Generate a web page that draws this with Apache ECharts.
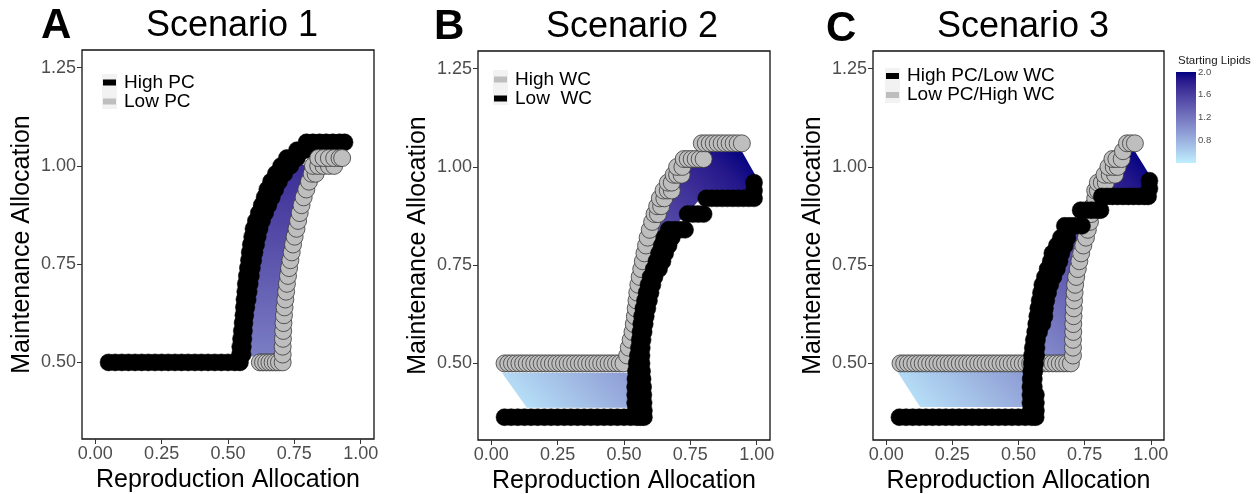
<!DOCTYPE html>
<html><head><meta charset="utf-8">
<script src="https://cdn.jsdelivr.net/npm/echarts@6/dist/echarts.min.js"></script>
<style>html,body{margin:0;padding:0;background:#fff}#c{width:1259px;height:494px}</style>
</head><body><div id="c"></div>
<script>
// ---------- data ----------
const X_TICKS = [0, 0.25, 0.5, 0.75, 1.0];
const Y_TICKS = [0.5, 0.75, 1.0, 1.25];
const CB_TICKS = [0.8, 1.2, 1.6, 2.0];
const CB_MIN = 0.4, CB_MAX = 2.0;
const LOW_COLOR = '#BFEFFF', HIGH_COLOR = '#000080';

const TITLES = ['Scenario 1', 'Scenario 2', 'Scenario 3'];
const LETTERS = ['A', 'B', 'C'];

// rows: [maintenance, [reproduction values...]]
const A_HIGH_ROWS = [
 [0.50,[0.05,0.075,0.10,0.125,0.15,0.175,0.20,0.225,0.25,0.275,0.30,0.325,0.35,0.375,0.40,0.425,0.45,0.475,0.50,0.525,0.545]],
 [0.52,[0.545,0.555]],[0.54,[0.546,0.556]],[0.56,[0.549,0.558]],[0.58,[0.552,0.56]],[0.60,[0.555,0.562]],
 [0.62,[0.558,0.565]],[0.64,[0.56,0.569]],[0.66,[0.562,0.574]],[0.68,[0.565,0.578]],[0.70,[0.567,0.582]],
 [0.72,[0.571,0.586]],[0.74,[0.575,0.59]],[0.76,[0.579,0.595]],[0.78,[0.582,0.60]],[0.80,[0.586,0.606]],
 [0.82,[0.591,0.612]],[0.84,[0.596,0.619]],[0.86,[0.605,0.628]],[0.88,[0.616,0.64]],[0.90,[0.627,0.652]],
 [0.92,[0.638,0.665]],[0.94,[0.648,0.678]],[0.96,[0.662,0.692]],[0.98,[0.68,0.712]],[1.00,[0.70,0.735]],
 [1.02,[0.722,0.76]],[1.04,[0.76,0.79]],[1.06,[0.796,0.82,0.845,0.87,0.895,0.92,0.939]]
];
const A_LOW_ROWS = [
 [0.50,[0.62,0.632,0.644,0.656,0.668,0.68,0.692,0.706]],
 [0.52,[0.706]],[0.54,[0.706]],[0.56,[0.707]],[0.58,[0.708]],[0.60,[0.709]],[0.62,[0.711]],[0.64,[0.713]],
 [0.66,[0.716]],[0.68,[0.719]],[0.70,[0.722]],[0.72,[0.726]],[0.74,[0.73]],[0.76,[0.735]],[0.78,[0.74]],
 [0.80,[0.745]],[0.82,[0.751]],[0.84,[0.758]],[0.86,[0.764]],[0.88,[0.77]],[0.90,[0.777]],[0.92,[0.785]],
 [0.94,[0.795]],[0.96,[0.805]],[0.98,[0.815,0.83]],[1.00,[0.82,0.84,0.86,0.88,0.90]],
 [1.02,[0.84,0.86,0.88,0.90,0.92,0.93]]
];
const B_HIGH_ROWS = [
 [0.50,[0.05,0.064,0.078,0.092,0.106,0.12,0.134,0.148,0.162,0.176,0.19,0.204,0.218,0.232,0.246,0.26,0.274,0.288,0.302,0.316,0.33,0.344,0.358,0.372,0.386,0.40,0.414,0.428,0.442,0.456,0.47,0.484,0.498]],
 [0.52,[0.512]],[0.54,[0.518]],[0.56,[0.525]],[0.58,[0.532]],[0.60,[0.537]],[0.62,[0.541]],[0.64,[0.544]],
 [0.66,[0.547]],[0.68,[0.55]],[0.70,[0.554]],[0.72,[0.559]],[0.74,[0.565]],[0.76,[0.571]],[0.78,[0.577]],
 [0.80,[0.583]],[0.82,[0.589]],[0.84,[0.597]],[0.86,[0.606]],[0.88,[0.615,0.628]],[0.90,[0.625,0.64]],
 [0.92,[0.635,0.652]],[0.94,[0.649,0.665,0.68]],[0.96,[0.665,0.68]],[0.98,[0.687,0.70,0.717]],[1.00,[0.70,0.72]],
 [1.02,[0.725,0.74,0.755,0.77,0.785,0.80]],
 [1.06,[0.793,0.808,0.823,0.838,0.853,0.868,0.883,0.898,0.913,0.928,0.944]]
];
const B_LOW_ROWS = [
 [0.363,[0.05,0.075,0.10,0.125,0.15,0.175,0.20,0.225,0.25,0.275,0.30,0.325,0.35,0.375,0.40,0.425,0.45,0.475,0.50,0.525,0.548,0.562,0.575]],
 [0.38,[0.543,0.575]],[0.40,[0.542,0.574]],[0.42,[0.542,0.573]],[0.44,[0.542,0.572]],[0.46,[0.543,0.57]],
 [0.48,[0.545,0.568]],[0.50,[0.548,0.566]],[0.52,[0.552,0.566]],[0.54,[0.556,0.567]],[0.56,[0.559,0.57]],
 [0.58,[0.562,0.574]],[0.60,[0.565,0.578]],[0.62,[0.568,0.582]],[0.64,[0.573,0.588]],[0.66,[0.579,0.594]],
 [0.68,[0.585,0.60]],[0.70,[0.592,0.607]],[0.72,[0.60,0.615]],[0.74,[0.612,0.632]],[0.76,[0.622,0.645]],
 [0.78,[0.632,0.655]],[0.80,[0.642,0.668]],[0.82,[0.652,0.68]],[0.84,[0.668,0.69,0.71,0.73]],
 [0.88,[0.74,0.76,0.78,0.80]],[0.92,[0.81,0.83,0.85,0.87,0.89,0.91,0.93,0.95,0.97,0.99]],
 [0.94,[0.99]],[0.96,[0.99]]
];
const C_HIGH_ROWS = [
 [0.363,[0.05,0.075,0.10,0.125,0.15,0.175,0.20,0.225,0.25,0.275,0.30,0.325,0.35,0.375,0.40,0.425,0.45,0.475,0.50,0.525,0.55,0.565]],
 [0.38,[0.546,0.566]],[0.40,[0.545,0.566]],[0.42,[0.545,0.566]],[0.44,[0.545,0.558]],[0.46,[0.546,0.558]],
 [0.48,[0.548,0.56]],[0.50,[0.55,0.563]],[0.52,[0.551,0.567]],[0.54,[0.554,0.568]],[0.56,[0.558,0.57]],
 [0.58,[0.563,0.578]],[0.60,[0.567,0.59]],[0.62,[0.571,0.598]],[0.64,[0.575,0.60]],[0.66,[0.58,0.605]],
 [0.68,[0.585,0.612]],[0.70,[0.59,0.62]],[0.72,[0.60,0.632]],[0.74,[0.61,0.645]],[0.76,[0.622,0.655]],
 [0.78,[0.628,0.662]],[0.80,[0.645,0.675]],[0.82,[0.66,0.685]],[0.85,[0.675,0.695,0.715,0.74]],
 [0.89,[0.735,0.755,0.775,0.795,0.81]],[0.925,[0.815,0.835,0.855,0.875,0.895,0.915,0.935,0.955,0.975,0.99]],
 [0.945,[0.995]],[0.965,[0.995]]
];
const C_LOW_ROWS = [
 [0.50,[0.054,0.068,0.082,0.096,0.11,0.124,0.138,0.152,0.166,0.18,0.194,0.208,0.222,0.236,0.25,0.264,0.278,0.292,0.306,0.32,0.334,0.348,0.362,0.376,0.39,0.404,0.418,0.432,0.446,0.46,0.474,0.488,0.502,0.516,0.53,0.544,0.558,0.572,0.586,0.60,0.614,0.628,0.642,0.656,0.67,0.684,0.698]],
 [0.52,[0.706]],[0.54,[0.706]],[0.56,[0.706]],[0.58,[0.707]],[0.60,[0.707]],[0.62,[0.708]],[0.64,[0.709]],
 [0.66,[0.71]],[0.68,[0.712]],[0.70,[0.714]],[0.72,[0.718]],[0.74,[0.724]],[0.76,[0.73]],[0.78,[0.737]],
 [0.80,[0.745]],[0.82,[0.755]],[0.84,[0.762]],[0.86,[0.77]],[0.88,[0.775]],[0.90,[0.78]],[0.92,[0.79]],
 [0.94,[0.79,0.80]],[0.96,[0.80,0.815,0.83]],[0.98,[0.825,0.845,0.865]],[1.00,[0.84,0.86,0.875]],
 [1.02,[0.855,0.87,0.89]],[1.04,[0.895]],[1.06,[0.91,0.925,0.94]]
];

// fill polygons between the two curves, and lipid gradient [from point, to point, lipid at each]
const A_FILL = [[0.575,0.515],[0.58,0.62],[0.59,0.70],[0.605,0.78],[0.62,0.84],[0.645,0.90],[0.675,0.95],[0.71,0.99],[0.74,1.003],[0.80,1.003],[0.79,0.96],[0.77,0.90],[0.75,0.84],[0.735,0.78],[0.72,0.70],[0.71,0.62],[0.70,0.515]];
const B_FILL = [[0.04,0.476],[0.525,0.476],[0.535,0.60],[0.55,0.70],[0.575,0.78],[0.60,0.84],[0.63,0.89],[0.66,0.935],[0.69,0.975],[0.73,1.01],[0.79,1.04],[0.944,1.04],[0.994,0.98],[0.994,0.93],[0.80,0.93],[0.75,0.89],[0.69,0.85],[0.655,0.80],[0.62,0.72],[0.59,0.62],[0.565,0.50],[0.55,0.40],[0.52,0.387],[0.134,0.387]];
const C_FILL = [[0.04,0.481],[0.69,0.481],[0.69,0.60],[0.695,0.70],[0.705,0.78],[0.74,0.855],[0.77,0.895],[0.80,0.94],[0.83,0.975],[0.86,1.005],[0.90,1.04],[0.94,1.04],[0.995,0.98],[0.995,0.925],[0.83,0.925],[0.78,0.89],[0.72,0.86],[0.68,0.84],[0.66,0.80],[0.64,0.75],[0.62,0.70],[0.60,0.60],[0.575,0.50],[0.56,0.40],[0.54,0.389],[0.128,0.389]];
const A_GRAD = {from:[0.65,0.52], to:[0.65,1.0], lipids:[1.15,1.72]};
const B_GRAD = {from:[0.05,0.40], to:[0.99,1.02], lipids:[0.45,2.0]};
const C_GRAD = {from:[0.05,0.40], to:[0.99,1.02], lipids:[0.45,2.0]};

// ---------- colour scale (CIELAB interpolation) ----------
function hex2rgb(h){return [parseInt(h.slice(1,3),16),parseInt(h.slice(3,5),16),parseInt(h.slice(5,7),16)];}
function rgb2lab(c){
  const f=v=>{v/=255;return v<=0.04045?v/12.92:Math.pow((v+0.055)/1.055,2.4);};
  const R=f(c[0]),G=f(c[1]),B=f(c[2]);
  const X=(0.4124*R+0.3576*G+0.1805*B)/0.95047, Y=0.2126*R+0.7152*G+0.0722*B, Z=(0.0193*R+0.1192*G+0.9505*B)/1.08883;
  const g=t=>t>0.008856?Math.cbrt(t):(7.787*t+16/116);
  const fx=g(X),fy=g(Y),fz=g(Z);
  return [116*fy-16,500*(fx-fy),200*(fy-fz)];
}
function lab2rgb(l){
  const fy=(l[0]+16)/116, fx=fy+l[1]/500, fz=fy-l[2]/200;
  const inv=t=>t>0.206893?t*t*t:(t-16/116)/7.787;
  const X=inv(fx)*0.95047, Y=inv(fy), Z=inv(fz)*1.08883;
  const R=3.2406*X-1.5372*Y-0.4986*Z, G=-0.9689*X+1.8758*Y+0.0415*Z, B=0.0557*X-0.2040*Y+1.0570*Z;
  const s=c=>{c=c<=0.0031308?12.92*c:1.055*Math.pow(c,1/2.4)-0.055;return Math.round(Math.min(1,Math.max(0,c))*255);};
  return 'rgb('+s(R)+','+s(G)+','+s(B)+')';
}
const LAB_LO=rgb2lab(hex2rgb(LOW_COLOR)), LAB_HI=rgb2lab(hex2rgb(HIGH_COLOR));
function lipidColor(v){const t=Math.min(1,Math.max(0,(v-CB_MIN)/(CB_MAX-CB_MIN)));return lab2rgb(LAB_LO.map((c,i)=>c+(LAB_HI[i]-c)*t));}
function stops(l0,l1){const s=[];for(let i=0;i<=12;i++){s.push({offset:i/12,color:lipidColor(l0+(l1-l0)*i/12)});}return s;}

// ---------- build ----------
const FONT = "'Liberation Sans', Arial, sans-serif";
const pts = rows => rows.flatMap(r => r[1].map(x => [x, r[0]]));
const GRIDS = [
  {left:82, top:50, width:292, height:389},
  {left:478, top:51, width:292, height:389},
  {left:873, top:51, width:291, height:389}
];

function mainX(i){return {gridIndex:i,type:'value',min:-0.05,max:1.05,
  name:'Reproduction Allocation',nameLocation:'middle',nameGap:25,
  nameTextStyle:{fontSize:25,color:'#000',fontFamily:FONT},
  axisLine:{show:false,onZero:false},
  axisTick:{show:true,length:5,customValues:X_TICKS,lineStyle:{color:'#333',width:1}},
  axisLabel:{customValues:X_TICKS,formatter:v=>v.toFixed(2),fontSize:18,color:'#4d4d4d',margin:6,fontFamily:FONT},
  splitLine:{show:false}};}
function mainY(i){return {gridIndex:i,type:'value',min:0.305,max:1.295,
  name:'Maintenance Allocation',nameLocation:'middle',nameGap:47,
  nameTextStyle:{fontSize:25,color:'#000',fontFamily:FONT},
  axisLine:{show:false,onZero:false},
  axisTick:{show:true,length:5,customValues:Y_TICKS,lineStyle:{color:'#333',width:1}},
  axisLabel:{customValues:Y_TICKS,formatter:v=>v.toFixed(2),fontSize:18,color:'#4d4d4d',margin:6,fontFamily:FONT},
  splitLine:{show:false}};}

function fillSeries(i, verts, grad){
  return {type:'custom',xAxisIndex:i,yAxisIndex:i,z:1,silent:true,data:[verts[0]],
    renderItem:(params,api)=>{
      const p=verts.map(v=>api.coord(v));
      const p0=api.coord(grad.from), p1=api.coord(grad.to);
      return {type:'polygon',shape:{points:p},
        style:{fill:new echarts.graphic.LinearGradient(p0[0],p0[1],p1[0],p1[1],stops(grad.lipids[0],grad.lipids[1]),true)}};
    }};
}
function blackSeries(i,name,rows,z){return {type:'scatter',name,xAxisIndex:i,yAxisIndex:i,z,data:pts(rows),symbol:'circle',symbolSize:17,
  itemStyle:{color:'#000',borderColor:'#000',borderWidth:0.5,opacity:1},silent:true};}
function graySeries(i,name,rows,z){return {type:'scatter',name,xAxisIndex:i,yAxisIndex:i,z,data:pts(rows),symbol:'circle',symbolSize:17,
  itemStyle:{color:'#bebebe',borderColor:'#3a3a3a',borderWidth:0.8,opacity:1},silent:true};}

function legend(left,top,items){return {left,top,orient:'vertical',itemWidth:13,itemHeight:6,itemGap:0,selectedMode:false,padding:0,
  textStyle:{fontSize:19,color:'#000',fontFamily:FONT,lineHeight:18,padding:[0,0,0,3]},
  data:items.map(it=>({name:it[0],icon:'rect',itemStyle:{color:it[1],borderWidth:0}}))};}

const series = [
  fillSeries(0,A_FILL,A_GRAD),
  blackSeries(0,'High PC',A_HIGH_ROWS,2),
  graySeries(0,'Low PC',A_LOW_ROWS,3),
  fillSeries(1,B_FILL,B_GRAD),
  graySeries(1,'High WC',B_HIGH_ROWS,2),
  blackSeries(1,'Low  WC',B_LOW_ROWS,3),
  fillSeries(2,C_FILL,C_GRAD),
  graySeries(2,'Low PC/High WC',C_LOW_ROWS,2),
  blackSeries(2,'High PC/Low WC',C_HIGH_ROWS,3),
  {type:'custom',xAxisIndex:3,yAxisIndex:3,silent:true,data:[[0,CB_MIN]],
   renderItem:(params,api)=>{
     const a=api.coord([0,CB_MIN]), b=api.coord([1,CB_MAX]);
     return {type:'rect',shape:{x:a[0],y:b[1],width:b[0]-a[0],height:a[1]-b[1]},
       style:{fill:new echarts.graphic.LinearGradient(0,1,0,0,stops(CB_MIN,CB_MAX))}};
   }}
];

const textCommon = {fontFamily:FONT, fill:'#000', verticalAlign:'middle'};
const graphic = [
  {type:'rect',z:0,shape:{x:102,y:74,width:15,height:35},style:{fill:'#f2f2f2'}},
  {type:'rect',z:0,shape:{x:493,y:70,width:15,height:35},style:{fill:'#f2f2f2'}},
  {type:'rect',z:0,shape:{x:885,y:68,width:15,height:35},style:{fill:'#f2f2f2'}},
  {type:'text',x:41,y:26,style:Object.assign({text:LETTERS[0],fontSize:42,fontWeight:'bold',align:'left'},textCommon)},
  {type:'text',x:434,y:27,style:Object.assign({text:LETTERS[1],fontSize:42,fontWeight:'bold',align:'left'},textCommon)},
  {type:'text',x:826,y:29,style:Object.assign({text:LETTERS[2],fontSize:42,fontWeight:'bold',align:'left'},textCommon)},
  {type:'text',x:232,y:26,style:Object.assign({text:TITLES[0],fontSize:36,align:'center'},textCommon)},
  {type:'text',x:632,y:27,style:Object.assign({text:TITLES[1],fontSize:36,align:'center'},textCommon)},
  {type:'text',x:1023,y:27,style:Object.assign({text:TITLES[2],fontSize:36,align:'center'},textCommon)},
  {type:'text',x:1178,y:61,style:Object.assign({text:'Starting Lipids',fontSize:11.5,align:'left'},textCommon,{fill:'#1a1a1a'})}
];

const option = {
  animation:false,
  textStyle:{fontFamily:FONT},
  grid: GRIDS.map(g=>Object.assign({show:true,borderColor:'#111',borderWidth:1.3,backgroundColor:'transparent',outerBoundsMode:'none'},g))
    .concat([{left:1176,top:72,width:20,height:91,show:false,outerBoundsMode:'none'}]),
  xAxis:[mainX(0),mainX(1),mainX(2),{gridIndex:3,type:'value',min:0,max:1,show:false}],
  yAxis:[mainY(0),mainY(1),mainY(2),
    {gridIndex:3,type:'value',min:CB_MIN,max:CB_MAX,position:'right',axisLine:{show:false,onZero:false},splitLine:{show:false},
     axisTick:{show:true,inside:true,length:4,customValues:CB_TICKS,lineStyle:{color:'#fff',width:1}},
     axisLabel:{customValues:CB_TICKS,formatter:v=>v.toFixed(1),fontSize:9.5,color:'#4d4d4d',margin:2,fontFamily:FONT}},
    {gridIndex:3,type:'value',min:CB_MIN,max:CB_MAX,position:'left',axisLine:{show:false,onZero:false},splitLine:{show:false},
     axisTick:{show:true,inside:true,length:4,customValues:CB_TICKS,lineStyle:{color:'#fff',width:1}},
     axisLabel:{show:false}}],
  legend:[
    legend(103,73,[['High PC','#000'],['Low PC','#bebebe']]),
    legend(494,70,[['High WC','#bebebe'],['Low  WC','#000']]),
    legend(886,66.5,[['High PC/Low WC','#000'],['Low PC/High WC','#bebebe']])
  ],
  graphic,
  series
};
const chart = echarts.init(document.getElementById('c'), null, {renderer:'canvas'});
chart.setOption(option);
</script></body></html>
